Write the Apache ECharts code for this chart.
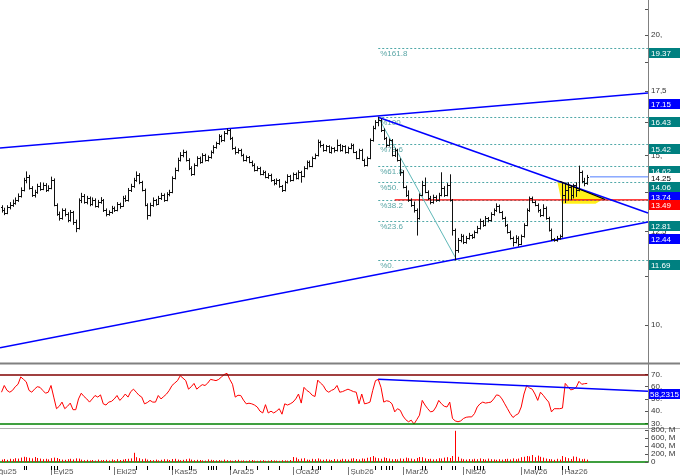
<!DOCTYPE html>
<html>
<head>
<meta charset="utf-8">
<script src="https://cdn.jsdelivr.net/npm/echarts@6/dist/echarts.min.js"></script>
<style>
  html, body { margin: 0; padding: 0; background: #fff; }
  #chart { width: 680px; height: 475px; }
</style>
</head>
<body>
<div id="chart"></div>
<script>
// daily bars [open, high, low, close], index 0 = first visible bar
const bars = [
  [13.25,13.30,13.10,13.16],[13.16,13.22,13.02,13.07],[13.07,13.30,13.05,13.26],[13.26,13.40,13.20,13.33],[13.33,13.48,13.28,13.39],
  [13.39,13.55,13.35,13.48],[13.48,13.68,13.44,13.62],[13.62,13.88,13.58,13.81],[13.81,14.20,13.78,14.14],[14.14,14.42,14.05,14.25],
  [14.25,14.30,13.84,13.88],[13.88,13.92,13.60,13.65],[13.65,13.80,13.58,13.75],[13.75,14.00,13.70,13.94],[13.94,14.05,13.80,13.85],
  [13.85,14.04,13.82,13.98],[13.98,14.02,13.76,13.81],[13.81,13.95,13.78,13.88],[13.88,14.24,13.85,14.14],[14.14,14.18,13.30,13.33],
  [13.33,13.36,13.00,13.04],[13.04,13.10,12.85,12.91],[12.91,13.20,12.88,13.16],[13.16,13.20,12.98,13.04],[13.04,13.08,12.80,12.85],
  [12.85,13.15,12.82,13.10],[13.10,13.12,12.72,12.79],[12.79,12.85,12.50,12.61],[12.61,13.52,12.58,13.48],[13.48,13.70,13.40,13.62],
  [13.62,13.66,13.38,13.42],[13.42,13.60,13.36,13.55],[13.55,13.58,13.30,13.36],[13.36,13.55,13.32,13.48],[13.48,13.52,13.26,13.30],
  [13.30,13.47,13.25,13.42],[13.42,13.56,13.38,13.48],[13.48,13.50,13.12,13.16],[13.16,13.20,12.98,13.04],[13.04,13.14,13.00,13.10],
  [13.10,13.28,13.06,13.23],[13.23,13.26,13.12,13.16],[13.16,13.40,13.14,13.36],[13.36,13.38,13.22,13.30],[13.30,13.60,13.28,13.55],
  [13.55,13.62,13.44,13.48],[13.48,13.86,13.45,13.81],[13.81,14.00,13.76,13.94],[13.94,14.20,13.90,14.14],[14.14,14.42,14.10,14.32],
  [14.32,14.36,14.02,14.07],[14.07,14.10,13.78,13.81],[13.81,13.84,13.30,13.33],[13.33,13.36,12.88,13.01],[13.01,13.38,12.98,13.33],
  [13.33,13.55,13.28,13.48],[13.48,13.50,13.32,13.36],[13.36,13.60,13.34,13.55],[13.55,13.70,13.50,13.65],[13.65,13.68,13.44,13.48],
  [13.48,13.72,13.46,13.68],[13.68,13.80,13.62,13.75],[13.75,14.25,13.72,14.21],[14.21,14.55,14.18,14.49],[14.49,14.90,14.45,14.84],
  [14.84,15.10,14.80,15.01],[15.01,15.19,14.95,15.12],[15.12,15.15,14.80,14.84],[14.84,14.88,14.50,14.56],[14.56,14.60,14.30,14.35],
  [14.35,14.70,14.32,14.66],[14.66,14.95,14.62,14.91],[14.91,14.94,14.72,14.77],[14.77,15.06,14.74,15.01],[15.01,15.04,14.80,14.84],
  [14.84,14.98,14.80,14.94],[14.94,15.16,14.90,15.12],[15.12,15.35,15.08,15.30],[15.30,15.48,15.26,15.44],[15.44,15.76,15.40,15.71],
  [15.71,15.74,15.50,15.56],[15.56,15.88,15.52,15.82],[15.82,15.98,15.78,15.94],[15.94,15.96,15.58,15.63],[15.63,15.66,15.22,15.26],
  [15.26,15.30,15.05,15.12],[15.12,15.24,15.08,15.19],[15.19,15.22,14.98,15.01],[15.01,15.04,14.80,14.84],[14.84,14.98,14.80,14.94],
  [14.94,14.96,14.74,14.77],[14.77,14.80,14.62,14.66],[14.66,14.70,14.45,14.49],[14.49,14.60,14.46,14.56],[14.56,14.58,14.32,14.35],
  [14.35,14.46,14.32,14.42],[14.42,14.44,14.22,14.25],[14.25,14.36,14.20,14.32],[14.32,14.34,14.10,14.14],[14.14,14.16,13.98,14.04],
  [14.04,14.18,14.00,14.14],[14.14,14.16,13.90,13.94],[13.94,13.96,13.76,13.81],[13.81,14.10,13.78,14.07],[14.07,14.32,14.04,14.28],
  [14.28,14.30,14.10,14.14],[14.14,14.38,14.12,14.35],[14.35,14.38,14.18,14.21],[14.21,14.46,14.18,14.42],[14.42,14.44,14.07,14.28],
  [14.28,14.60,14.25,14.56],[14.56,14.80,14.52,14.77],[14.77,14.80,14.60,14.63],[14.63,14.94,14.60,14.91],[14.91,15.05,14.88,15.01],
  [15.01,15.56,14.98,15.48],[15.48,15.52,15.30,15.37],[15.37,15.40,15.15,15.19],[15.19,15.36,15.16,15.33],[15.33,15.35,15.10,15.12],
  [15.12,15.30,15.08,15.26],[15.26,15.28,15.12,15.19],[15.19,15.56,15.16,15.37],[15.37,15.40,15.15,15.19],[15.19,15.36,15.16,15.33],
  [15.33,15.35,15.08,15.12],[15.12,15.30,15.08,15.26],[15.26,15.42,15.24,15.37],[15.37,15.40,15.10,15.12],[15.12,15.14,14.88,14.91],
  [14.91,15.22,14.88,15.19],[15.19,15.22,14.82,14.84],[14.84,14.86,14.62,14.66],[14.66,14.94,14.63,14.91],[14.91,15.60,14.88,15.56],
  [15.56,16.08,15.52,16.02],[16.02,16.30,15.98,16.24],[16.24,16.43,16.10,16.32],[16.32,16.36,15.88,15.94],[15.94,15.98,15.58,15.63],
  [15.63,15.66,15.30,15.37],[15.37,15.60,15.34,15.56],[15.56,15.58,14.98,15.01],[15.01,15.24,14.96,15.19],[15.19,15.22,14.80,14.84],
  [14.84,14.88,14.30,14.42],[14.42,14.46,13.88,13.91],[13.91,13.94,13.60,13.65],[13.65,13.78,13.44,13.48],[13.48,13.52,13.28,13.33],
  [13.33,13.42,13.10,13.16],[13.16,13.20,12.40,12.91],[12.91,13.68,12.88,13.65],[13.65,14.10,13.62,13.98],[13.98,14.21,13.72,13.75],
  [13.75,13.78,13.50,13.55],[13.55,13.60,13.36,13.42],[13.42,13.64,13.38,13.58],[13.58,13.62,13.44,13.48],[13.48,13.70,13.45,13.65],
  [13.65,14.39,13.62,13.88],[13.88,13.92,13.60,13.65],[13.65,14.02,13.62,13.98],[13.98,14.32,13.45,13.48],[13.48,13.50,12.40,12.55],
  [12.55,12.58,11.69,11.97],[11.97,12.30,11.90,12.26],[12.26,12.42,12.20,12.37],[12.37,12.40,12.15,12.20],[12.20,12.36,12.16,12.32],
  [12.32,12.45,12.28,12.40],[12.40,12.42,12.30,12.35],[12.35,12.52,12.32,12.49],[12.49,12.66,12.46,12.61],[12.61,12.88,12.58,12.82],
  [12.82,12.84,12.66,12.70],[12.70,12.96,12.68,12.91],[12.91,12.93,12.80,12.85],[12.85,13.08,12.82,13.04],[13.04,13.20,13.00,13.16],
  [13.16,13.36,13.12,13.30],[13.30,13.32,13.08,13.10],[13.10,13.12,12.88,12.91],[12.91,12.94,12.66,12.70],[12.70,12.72,12.46,12.49],
  [12.49,12.52,12.28,12.32],[12.32,12.34,12.08,12.20],[12.20,12.38,12.17,12.32],[12.32,12.35,12.08,12.14],[12.14,12.40,12.12,12.37],
  [12.37,12.74,12.34,12.70],[12.70,13.20,12.68,13.16],[13.16,13.58,13.12,13.55],[13.55,13.58,13.40,13.42],[13.42,13.45,13.30,13.33],
  [13.33,13.36,13.10,13.16],[13.16,13.18,12.96,13.01],[13.01,13.33,12.98,13.23],[13.23,13.26,12.88,12.91],[12.91,12.94,12.52,12.55],
  [12.55,12.58,12.24,12.28],[12.28,12.30,12.22,12.26],[12.26,12.36,12.22,12.32],[12.32,12.40,12.28,12.37],[12.37,14.04,12.34,13.65],
  [13.65,14.04,13.40,13.81],[13.81,14.05,13.48,13.91],[13.91,13.95,13.50,13.65],[13.65,14.00,13.55,13.98],[13.98,14.05,13.60,13.81],
  [13.81,14.62,13.78,14.42],[14.42,14.45,14.05,14.10],[14.10,14.20,13.95,14.04],[14.04,14.30,14.00,14.25]
];

const rsi = [
  55.5,61,57,55.5,57,60,62,68,66,64, 57,55.5,58,60,59.5,57,54.7,55.5,61,51.5,
  42,44,47.4,42,44,46.6,41.2,41.2,50,54.7, 52,50,47.4,50,52.8,51.5,53.3,46,45,47.4,
  48,50,52.8,48.8,51,54,51.5,56,58,55.5, 53,51.5,46,47,48.8,47.4,47.4,52.8,50,52,
  54,57,61,63,65,69,67,65,58,60, 62.7,58,60,61.7,61,63,66,65.5,65,66,
  68,70,71,66,62,51.5,53,52.8,49,46, 46.5,46,45,43.4,40,38.5,45.3,38.5,40,38.5,
  40,42,37.5,46,45,46,47.4,50,54,46.6, 59.5,57,55.5,53,52,65.4,63,61,57,55.5,
  57,58,61,55.5,56,57,58,57,56,55.5, 46,54,46,46.5,47.4,57,65,66,59.5,47.4,
  48.5,48,46,39.4,42,40.7,36,33,31.3,32.6, 29.4,33,36.7,48.8,45,42,39.4,40,43.4,48.8,
  46,44,43.4,47.4,34,32,31.3,32,34,35, 35.3,35.3,38,43.4,46,47.4,46.6,47,47.4,50,
  53.3,52.8,50,46,42,38,34.8,36.7,38,43.4, 54,61,59,58,54,48.8,55.5,53,50,47.4,
  39.4,42,42,42,42.5,62.7,60,57.4,58,59.5, 64.4,62,62.5,62.7
];

// volume, millions
const volume = [
  60,75,55,80,70,95,85,110,130,120,105,90,125,100,85,70,80,65,95,110,100,
  75,60,55,70,80,65,90,85,60,45,55,40,50,35,60,45,50,55,40,65,45,70,50,60,75,80,90,
  230,120,95,70,85,60,50,45,60,40,55,70,65,
  50,75,80,60,45,55,70,85,60,45,55,50,40,35,65,55,45,40,50,35,60,45,40,30,45,55,35,40,30,45,50,35,30,40,45,30,35,50,40,35,30,45,40,35,50,
  125,110,70,85,95,60,55,80,70,90,65,55,70,60,50,75,65,55,80,70,60,85,95,75,65,
  90,80,105,120,150,110,95,80,115,100,85,70,75,65,90,80,110,95,85,70,100,125,120,90,75,80,65,70,95,85,110,120,100,
  150,780,130,85,70,60,75,65,80,70,90,75,60,85,70,65,55,70,60,75,80,65,90,70,85,
  120,130,150,140,175,120,160,130,110,85,75,70,55,80,60,150,120,95,75,140,130,90,70,80,60
];

const months = [[-4, 'Ağu25'], [18, 'Eyl25'], [41, 'Eki25'], [62, 'Kas25'], [83, 'Ara25'], [106, 'Oca26'],
  [126, 'Şub26'], [146, 'Mar26'], [168, 'Nis26'], [189, 'May26'], [204, 'Haz26']];
const eventBars = [8,9,18,19,20,39,49,53,61,62,68,69,75,76,77,78,83,89,93,97,101,109,113,115,116,120,
  136,138,140,141,142,153,154,160,164,165,172,173,174,175,194,195,196,204,206];

const fibLevels = [[161.8, 19.37], [100, 16.43], [78.6, 15.42], [61.8, 14.62], [50, 14.06], [38.2, 13.49], [23.6, 12.81], [0, 11.69]];
const priceTicks = [10, 11.25, 12.5, 13.75, 15, 16.25, 17.5, 18.75, 20, 21.25];
const priceLabels = [10, 12.5, 15, 17.5, 20];
const rsiLabels = [30, 40, 50, 60, 70];
const volLabels = [0, 200, 400, 600, 800];

// trend lines, [bar index, price]
const upperChannel = [[-0.55, 15.27], [235.1, 17.41]];
const lowerChannel = [[-0.55, 9.47], [235.1, 12.79]];
const downTrend = [[137, 16.43], [235.1, 13.07]];
const fibAnchor = [[137, 16.43], [165.5, 11.69]];
const pennant = [[202, 14.14], [203.8, 13.36], [216, 13.36], [219.5, 13.55]];
const pennantTop = [[203, 14.10], [219.5, 13.50]];
const levelLine = [[143, 13.49], [235.1, 13.49]];
const lastLine = [[214, 14.25], [235.1, 14.25]];
const rsiTrend = [[137, 66.2], [235.1, 56.3]];

const tagValues = [19.37, 17.15, 16.43, 15.42, 14.62, 14.25, 14.06, 13.74, 13.49, 12.81, 12.44, 11.69];
const tagKinds = ['fib', 'trend', 'fib', 'fib', 'fib', 'last', 'fib', 'trend', 'level', 'fib', 'trend', 'fib'];

const X_MIN = -0.55, X_MAX = 235.1;
const ln = Math.log;
const FONT = '8px "Liberation Sans", Arial, sans-serif';
const tagColors = { fib: '#008080', trend: '#0000ff', level: '#ff0000', last: '#ffffff' };

function fmtPrice(v) {
  const r = Math.round(Math.exp(v) * 100) / 100;
  return Number.isInteger(r) ? r + ',' : String(r).replace('.', ',');
}

function lineSeries(points, color, width, yIdx, z) {
  return {
    type: 'line', xAxisIndex: yIdx, yAxisIndex: yIdx, silent: true, symbol: 'none', z: z || 3,
    data: points.map(p => [p[0], yIdx === 0 ? ln(p[1]) : p[1]]),
    lineStyle: { color: color, width: width }
  };
}

function rightAxis(grid, min, max, ticks, labels, fmt) {
  return {
    gridIndex: grid, type: 'value', position: 'right', min: min, max: max,
    axisLine: { show: true, onZero: false, lineStyle: { color: '#808080' } },
    axisTick: { show: true, inside: true, length: 3, customValues: ticks, lineStyle: { color: '#555' } },
    axisLabel: { customValues: labels, formatter: fmt, fontSize: 8, color: '#333', margin: 3, fontFamily: 'Liberation Sans' },
    splitLine: { show: false }
  };
}

const chart = echarts.init(document.getElementById('chart'));

const hiddenX = { type: 'value', min: X_MIN, max: X_MAX, show: false };

chart.setOption({
  animation: false,
  backgroundColor: '#fff',
  grid: [
    { left: 0, right: 32, top: 0, height: 363, outerBoundsMode: 'none' },
    { left: 0, right: 32, top: 364, height: 64, outerBoundsMode: 'none' },
    { left: 0, right: 32, top: 430, height: 32, outerBoundsMode: 'none' }
  ],
  xAxis: [
    Object.assign({ gridIndex: 0 }, hiddenX),
    Object.assign({ gridIndex: 1 }, hiddenX),
    {
      gridIndex: 2, type: 'value', min: X_MIN, max: X_MAX,
      axisLine: { show: true, onZero: false, lineStyle: { color: '#008000', width: 1.5 } },
      axisTick: { show: false }, axisLabel: { show: false }, splitLine: { show: false }
    }
  ],
  yAxis: [
    rightAxis(0, ln(20) - 328 / 418.5, ln(20) + 35 / 418.5, priceTicks.map(ln), priceLabels.map(ln), fmtPrice),
    rightAxis(1, 26.2, 78.6, rsiLabels, rsiLabels, v => v + '.'),
    rightAxis(2, 0, 800, volLabels, volLabels, v => v === 0 ? '0' : v + ', M')
  ],
  graphic: [
    { type: 'line', shape: { x1: 0, y1: 363.5, x2: 680, y2: 363.5 }, style: { stroke: '#808080', lineWidth: 2 } },
    { type: 'line', shape: { x1: 0, y1: 428.5, x2: 680, y2: 428.5 }, style: { stroke: '#b0b0b0', lineWidth: 1 } }
  ],
  series: [
    {
      // pennant highlight
      type: 'custom', xAxisIndex: 0, yAxisIndex: 0, silent: true, z: 1,
      data: [[pennant[0][0], ln(pennant[0][1])]],
      renderItem: (params, api) => ({
        type: 'polygon',
        shape: { points: pennant.map(p => api.coord([p[0], ln(p[1])])) },
        style: { fill: '#ffee00', opacity: 0.9 }
      })
    },
    {
      // fibonacci levels
      type: 'custom', xAxisIndex: 0, yAxisIndex: 0, silent: true, z: 2,
      data: fibLevels.map(f => [137, ln(f[1])]),
      renderItem: (params, api) => {
        const a = api.coord([api.value(0), api.value(1)]);
        const b = api.coord([X_MAX, api.value(1)]);
        const y = Math.round(a[1]) + 0.5;
        const pct = fibLevels[params.dataIndex][0];
        return {
          type: 'group', children: [
            { type: 'line', shape: { x1: a[0], y1: y, x2: b[0], y2: y }, style: { stroke: '#50a8a8', lineWidth: 1, lineDash: [2, 2] } },
            { type: 'text', x: a[0] + 2, y: y + 1, style: { text: '%' + (Number.isInteger(pct) ? pct + '.' : pct), fill: '#5aa6a6', font: FONT, verticalAlign: 'top' } }
          ]
        };
      }
    },
    lineSeries(levelLine, '#ff0000', 1.2, 0, 3),
    lineSeries(fibAnchor, '#5fb8b8', 1, 0, 3),
    lineSeries(upperChannel, '#0000ff', 1.5, 0, 3),
    lineSeries(lowerChannel, '#0000ff', 1.5, 0, 3),
    lineSeries(downTrend, '#0000ff', 1.5, 0, 3),
    lineSeries(lastLine, '#4f7cff', 1, 0, 3),
    {
      // ohlc bars
      type: 'custom', xAxisIndex: 0, yAxisIndex: 0, silent: true, z: 4,
      encode: { x: 0, y: [2, 3] },
      data: bars.map((b, i) => [i, ln(b[0]), ln(b[1]), ln(b[2]), ln(b[3])]),
      renderItem: (params, api) => {
        const i = api.value(0);
        const o = api.coord([i, api.value(1)]);
        const h = api.coord([i, api.value(2)]);
        const l = api.coord([i, api.value(3)]);
        const c = api.coord([i, api.value(4)]);
        const x = Math.round(h[0]) + 0.5;
        const st = { stroke: '#111', lineWidth: 1 };
        return {
          type: 'group', children: [
            { type: 'line', shape: { x1: x, y1: h[1] - 0.5, x2: x, y2: l[1] + 0.5 }, style: st },
            { type: 'line', shape: { x1: x - 1.5, y1: Math.round(o[1]) + 0.5, x2: x, y2: Math.round(o[1]) + 0.5 }, style: st },
            { type: 'line', shape: { x1: x, y1: Math.round(c[1]) + 0.5, x2: x + 1.5, y2: Math.round(c[1]) + 0.5 }, style: st }
          ]
        };
      }
    },
    lineSeries(pennantTop, '#000000', 1.2, 0, 5),
    {
      // price tags on the right
      type: 'custom', xAxisIndex: 0, yAxisIndex: 0, silent: true, z: 10, clip: false,
      data: tagValues.map(v => [X_MAX, ln(v)]),
      renderItem: (params, api) => {
        const p = api.coord([api.value(0), api.value(1)]);
        const kind = tagKinds[params.dataIndex];
        const top = kind === 'last' ? Math.round(p[1]) - 4 : Math.round(p[1]);
        return {
          type: 'group', children: [
            { type: 'rect', shape: { x: p[0] + 1, y: top, width: 32, height: 10 }, style: { fill: tagColors[kind] } },
            { type: 'text', x: p[0] + 3, y: top + 5.5, style: { text: tagValues[params.dataIndex].toFixed(2), fill: kind === 'last' ? '#000' : '#fff', font: FONT, verticalAlign: 'middle' } }
          ]
        };
      }
    },
    {
      name: 'RSI', type: 'line', xAxisIndex: 1, yAxisIndex: 1, silent: true, symbol: 'none', z: 4,
      data: rsi.map((v, i) => [i, v]),
      lineStyle: { color: '#ff0000', width: 1 },
      markLine: {
        silent: true, symbol: ['none', 'none'], label: { show: false },
        data: [
          { yAxis: 70, lineStyle: { color: '#800000', width: 1.5, type: 'solid' } },
          { yAxis: 30, lineStyle: { color: '#008000', width: 1.5, type: 'solid' } }
        ]
      }
    },
    lineSeries(rsiTrend, '#0000ff', 1.5, 1, 5),
    {
      type: 'custom', xAxisIndex: 1, yAxisIndex: 1, silent: true, z: 10, clip: false,
      data: [[X_MAX, 58.2315]],
      renderItem: (params, api) => {
        const p = api.coord([api.value(0), api.value(1)]);
        const top = Math.round(p[1]);
        return {
          type: 'group', children: [
            { type: 'rect', shape: { x: p[0] + 1, y: top, width: 32, height: 10 }, style: { fill: '#0000ff' } },
            { type: 'text', x: p[0] + 2, y: top + 5.5, style: { text: '58,2315', fill: '#fff', font: FONT, verticalAlign: 'middle' } }
          ]
        };
      }
    },
    {
      // volume
      type: 'custom', xAxisIndex: 2, yAxisIndex: 2, silent: true, z: 3,
      data: volume.map((v, i) => [i, v]),
      renderItem: (params, api) => {
        const a = api.coord([api.value(0), 0]);
        const b = api.coord([api.value(0), api.value(1)]);
        const x = Math.round(a[0]) + 0.5;
        return { type: 'line', shape: { x1: x, y1: a[1], x2: x, y2: b[1] }, style: { stroke: '#ff0000', lineWidth: 1 } };
      }
    },
    {
      // month labels under the volume pane
      type: 'custom', xAxisIndex: 2, yAxisIndex: 2, silent: true, z: 10, clip: false,
      data: months.map(m => [m[0], 0]),
      renderItem: (params, api) => {
        const p = api.coord([api.value(0), 0]);
        const x = Math.round(p[0]) + 0.5;
        return {
          type: 'group', children: [
            { type: 'line', shape: { x1: x, y1: p[1] + 5, x2: x, y2: p[1] + 13 }, style: { stroke: '#777', lineWidth: 1 } },
            { type: 'text', x: x + 2, y: p[1] + 9.5, style: { text: months[params.dataIndex][1], fill: '#555', font: FONT, verticalAlign: 'middle' } }
          ]
        };
      }
    },
    {
      // event markers
      type: 'custom', xAxisIndex: 2, yAxisIndex: 2, silent: true, z: 10, clip: false,
      data: eventBars.map(i => [i, 0]),
      renderItem: (params, api) => {
        const p = api.coord([api.value(0), 0]);
        return { type: 'rect', shape: { x: Math.round(p[0]), y: p[1] + 4, width: 1, height: 4 }, style: { fill: '#000' } };
      }
    }
  ]
});
</script>
</body>
</html>
